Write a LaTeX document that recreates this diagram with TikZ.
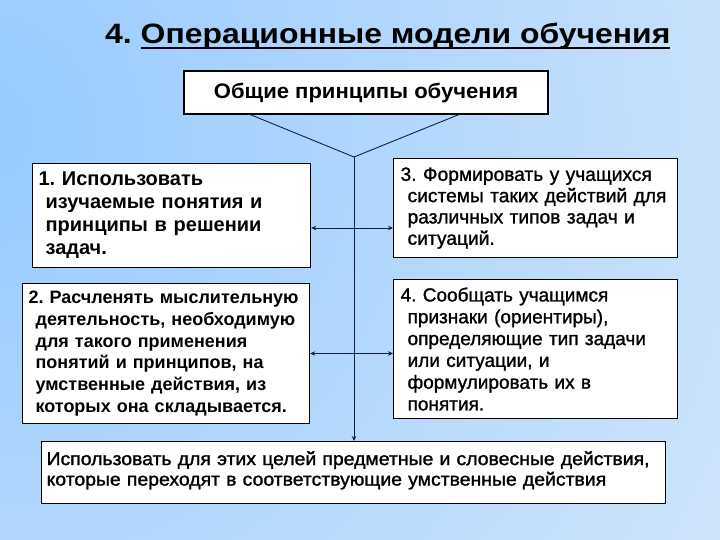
\documentclass[tikz,border=0pt]{standalone}
\usepackage{fontspec}
\setmainfont{Liberation Sans}
\usetikzlibrary{arrows.meta}
\frenchspacing
\definecolor{bgblue}{RGB}{150,202,255}
\definecolor{bgpale}{RGB}{216,233,250}
\definecolor{linec}{RGB}{20,30,60}
\newcommand{\ulinetext}[1]{{\setbox0\hbox{#1}\rlap{\rule[-5pt]{\wd0}{2pt}}\box0}}
\tikzset{
  box/.style={draw=black, line width=1.2pt, fill=white, inner xsep=6pt, inner ysep=0pt, align=left, anchor=north west},
  conn/.style={draw=linec, line width=0.9pt},
  arr/.style={conn, -{Stealth[length=5pt,width=4.5pt]}},
}
\begin{document}
\begin{tikzpicture}[x=1pt,y=-1pt]
\useasboundingbox (0,0) rectangle (720,540);
\fill[bgpale] (0,0) rectangle (720,540);
\begin{scope}
\clip (0,0) rectangle (720,540);
\shade[inner color=bgblue, outer color=bgpale] (-20,130) circle (1000pt);
\end{scope}
% title
\node[anchor=base west, inner sep=0pt, font=\fontsize{28}{32}\selectfont\bfseries\addfontfeature{FakeStretch=1.14}] (title) at (105,44) {4. \ulinetext{Операционные модели обучения}};
% top box
\node[box, anchor=center, align=center, minimum width=364pt, minimum height=43pt, font=\fontsize{21}{24}\selectfont\bfseries\addfontfeature{FakeStretch=1.05}] (top) at (366,92.5) {Общие принципы обучения};
% box 1
\node[box, font=\fontsize{20}{23}\selectfont\bfseries, text width=266pt, minimum height=104pt] (b1) at (32,163) {1. Использовать\\\hspace*{7pt}изучаемые понятия и\\\hspace*{7pt}принципы в решении\\\hspace*{7pt}задач.};
% box 3
\node[box, font=\fontsize{19.2}{21.3}\selectfont\addfontfeature{FakeBold=1.2}, text width=270pt, inner xsep=7pt, minimum height=99pt] (b3) at (393,158) {3. Формировать у учащихся\\\hspace*{7pt}системы таких действий для\\\hspace*{7pt}различных типов задач и\\\hspace*{7pt}ситуаций.};
% box 2
\node[box, font=\fontsize{18}{21.8}\selectfont\bfseries, text width=275pt, minimum height=140pt] (b2) at (22,283) {2. Расчленять мыслительную\\\hspace*{7pt}деятельность, необходимую\\\hspace*{7pt}для такого применения\\\hspace*{7pt}понятий и принципов, на\\\hspace*{7pt}умственные действия, из\\\hspace*{7pt}которых она складывается.};
% box 4
\node[box, font=\fontsize{19}{21.8}\selectfont\addfontfeature{FakeBold=1.2}, text width=270pt, inner xsep=7pt, minimum height=139pt] (b4) at (393,279) {4. Сообщать учащимся\\\hspace*{7pt}признаки (ориентиры),\\\hspace*{7pt}определяющие тип задачи\\\hspace*{7pt}или ситуации, и\\\hspace*{7pt}формулировать их в\\\hspace*{7pt}понятия.};
% bottom box
\node[box, font=\fontsize{18.5}{20.5}\selectfont\addfontfeature{FakeBold=1.5,FakeStretch=1.05}, text width=614pt, inner xsep=5pt] (bot) at (41,441) {\rule{0pt}{23.5pt}Использовать для этих целей предметные и словесные действия,\\которые переходят в соответствующие умственные действия\rule[-18pt]{0pt}{18pt}};
% connectors
\coordinate (j) at (354,157);
\coordinate (tl) at (250,114.5);
\coordinate (tr) at (459,114.5);
\coordinate (a1) at (354,228);
\coordinate (a2) at (354,353.5);
\draw[conn] (tl) -- (j) -- (tr);
\draw[arr] (j) -- (bot.north -| j);
\draw[arr] (a1) -- (a1 -| b1.east);
\draw[arr] (a1) -- (a1 -| b3.west);
\draw[arr] (a2) -- (a2 -| b2.east);
\draw[arr] (a2) -- (a2 -| b4.west);
\end{tikzpicture}
\end{document}
